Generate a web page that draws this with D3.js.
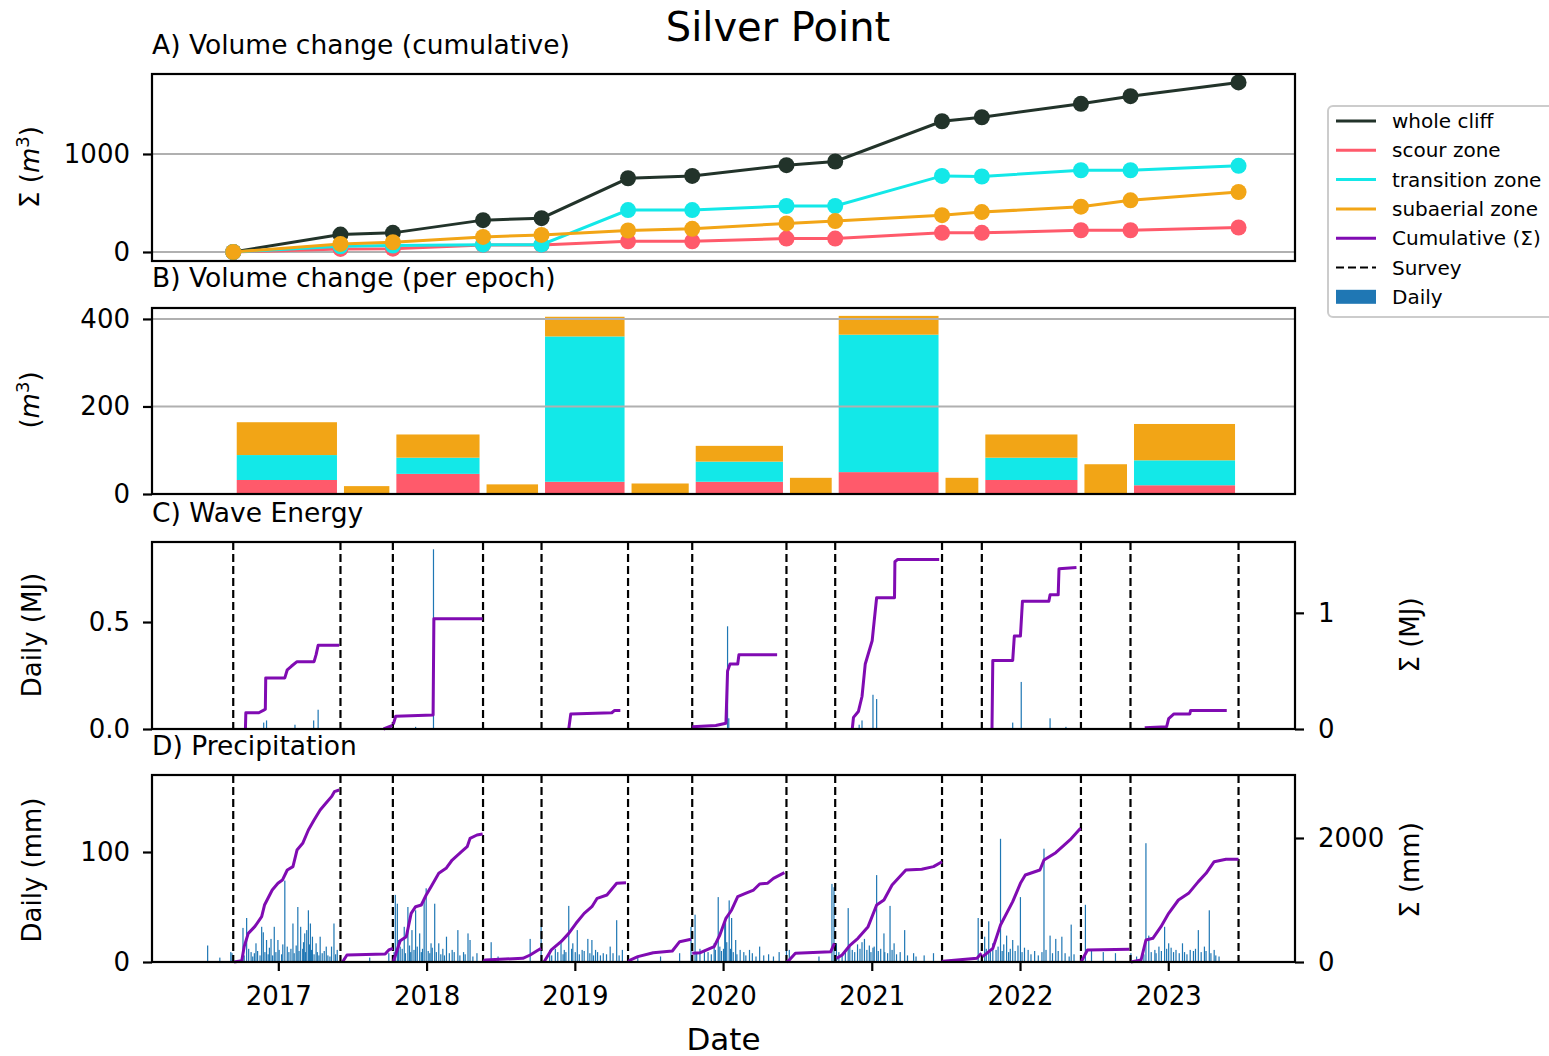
<!DOCTYPE html>
<html>
<head>
<meta charset="utf-8">
<script src="https://cdn.jsdelivr.net/npm/d3@7"></script>
<style>
  body { margin: 0; background: #fff; }
  svg text { font-family: "DejaVu Sans", sans-serif; fill: #000; }
</style>
</head>
<body>
<div id="chart"></div>
<script>
// survey dates (epoch boundaries)
const surveyDates = ["2016-09-12","2017-06-03","2017-10-10","2018-05-20","2018-10-11","2019-05-12","2019-10-17",
  "2020-06-05","2020-10-03","2021-06-23","2021-09-29","2022-05-31","2022-09-30","2023-06-23"]

// A) cumulative volume change at each survey (m3)
const wholeCliff = [0,178,195,325,345,752,776,886,923,1334,1375,1512,1590,1730]
const scourZone = [0,31,34,72,72,109,109,137,137,195,195,222,222,250]
const transitionZone = [0,58,65,75,75,428,428,469,469,776,770,834,834,879]
const subaerialZone = [0,82,99,154,174,219,236,291,315,376,407,462,527,612]

// B) volume change per epoch (m3)
const scourEpoch = [32,0,46,0,28,0,28,0,50,0,32,0,20]
const transitionEpoch = [57,0,37,0,332,0,46,0,314,0,51,0,57]
const subaerialEpoch = [75,18,53,22,45,24,36,37,43,37,53,68,83]

// C) wave energy, daily (MJ) and cumulative per epoch (MJ)
const waveDaily = [["2016-11-26",0.03],["2016-12-03",0.04],["2017-02-11",0.02],["2017-03-29",0.04],["2017-04-09",0.09],
  ["2017-12-05",0.01],["2018-01-18",0.84],["2020-01-12",0.48],["2020-01-15",0.05],["2020-12-01",0.02],["2020-12-08",0.04],
  ["2021-01-04",0.16],["2021-01-13",0.14],["2021-12-14",0.03],["2022-01-04",0.22],["2022-03-16",0.05],["2022-04-24",0.01]]
const waveCumulative = [
  [["2016-10-12",0],["2016-10-13",0.14],["2016-11-14",0.14],["2016-11-25",0.16],["2016-11-30",0.17],["2016-12-01",0.44],["2017-01-17",0.44],
   ["2017-01-23",0.51],["2017-02-02",0.54],["2017-02-16",0.58],["2017-03-30",0.58],["2017-04-04",0.64],["2017-04-09",0.72],["2017-05-31",0.72]],
  [["2017-09-17",0],["2017-10-09",0.03]],
  [["2017-10-11",0.04],["2017-10-17",0.11],["2018-01-17",0.12],["2018-01-19",0.95],["2018-05-19",0.95]],
  [["2018-12-17",0],["2018-12-22",0.13],["2019-04-02",0.14],["2019-04-09",0.16],["2019-04-23",0.16]],
  [["2019-10-17",0.02],["2019-12-14",0.03],["2020-01-08",0.05],["2020-01-12",0.50],["2020-01-18",0.56],["2020-02-06",0.56],
   ["2020-02-09",0.64],["2020-05-13",0.64]],
  [["2020-11-14",0],["2020-11-17",0.1],["2020-11-29",0.15],["2020-12-08",0.28],["2020-12-16",0.56],["2021-01-02",0.76],["2021-01-07",0.93],
   ["2021-01-13",1.13],["2021-02-26",1.13],["2021-02-27",1.44],["2021-03-06",1.46],["2021-06-16",1.46]],
  [["2021-10-24",0],["2021-10-26",0.59],["2021-12-14",0.59],["2021-12-18",0.8],["2022-01-02",0.8],["2022-01-07",1.1],["2022-03-13",1.1],
   ["2022-03-16",1.155],["2022-04-05",1.155],["2022-04-07",1.38],["2022-05-20",1.39]],
  [["2022-11-04",0.01],["2022-12-28",0.02],["2023-01-02",0.09],["2023-01-15",0.13],["2023-02-23",0.13],["2023-02-25",0.16],["2023-05-25",0.16]]
]

// D) precipitation, daily (mm) and cumulative per epoch (mm)
const rainDaily = [
  ["2016-07-11",15],["2016-08-10",4],["2016-09-06",9],["2016-09-09",8],["2016-10-06",31],["2016-10-09",6],["2016-10-15",40],["2016-10-20",12],
  ["2016-10-26",9],["2016-10-30",5],["2016-11-03",8],["2016-11-07",17],["2016-11-11",10],["2016-11-17",6],["2016-11-21",32],["2016-11-25",27],
  ["2016-11-29",9],["2016-12-03",20],["2016-12-07",7],["2016-12-10",13],["2016-12-14",21],["2016-12-18",6],["2016-12-22",32],["2016-12-26",9],
  ["2016-12-31",20],["2017-01-03",11],["2017-01-09",7],["2017-01-12",16],["2017-01-17",74],["2017-01-23",14],["2017-01-27",9],["2017-02-01",12],
  ["2017-02-06",35],["2017-02-09",8],["2017-02-14",15],["2017-02-18",50],["2017-02-21",10],["2017-02-25",32],["2017-03-02",12],["2017-03-04",18],
  ["2017-03-07",26],["2017-03-09",9],["2017-03-12",29],["2017-03-16",47],["2017-03-19",16],["2017-03-21",35],["2017-03-24",11],["2017-03-26",23],
  ["2017-03-30",7],["2017-04-04",17],["2017-04-07",9],["2017-04-11",6],["2017-04-14",23],["2017-04-19",8],["2017-04-24",10],["2017-04-29",14],
  ["2017-05-03",6],["2017-05-08",5],["2017-05-12",14],["2017-05-18",35],["2017-05-22",7],["2017-05-26",11],
  ["2017-08-14",4],["2017-09-30",8],["2017-10-13",9],["2017-10-16",61],["2017-10-21",53],["2017-10-24",20],["2017-10-28",14],["2017-11-02",12],
  ["2017-11-07",32],["2017-11-10",8],["2017-11-16",50],["2017-11-20",15],["2017-11-23",9],["2017-11-26",29],["2017-12-01",11],["2017-12-05",47],
  ["2017-12-09",14],["2017-12-15",26],["2017-12-19",9],["2017-12-22",12],["2017-12-26",58],["2017-12-31",67],["2018-01-05",10],["2018-01-09",8],
  ["2018-01-12",17],["2018-01-15",13],["2018-01-21",53],["2018-01-25",9],["2018-01-31",17],["2018-02-05",7],["2018-02-10",12],["2018-02-14",6],
  ["2018-02-19",23],["2018-02-26",8],["2018-03-05",11],["2018-03-10",9],["2018-03-19",29],["2018-03-24",6],["2018-04-02",9],["2018-04-06",7],
  ["2018-04-13",26],["2018-04-18",20],["2018-04-25",5],["2018-05-05",8],
  ["2018-06-09",18],["2018-06-26",5],["2018-09-13",21],["2018-10-10",32],["2018-10-31",11],["2018-11-05",6],["2018-11-14",12],["2018-11-20",9],
  ["2018-11-28",20],["2018-12-03",7],["2018-12-06",11],["2018-12-10",9],["2018-12-17",51],["2018-12-24",12],["2018-12-27",17],["2019-01-02",9],
  ["2019-01-07",29],["2019-01-12",7],["2019-01-19",11],["2019-01-24",10],["2019-02-02",21],["2019-02-07",8],["2019-02-12",20],["2019-02-16",6],
  ["2019-02-21",11],["2019-02-26",9],["2019-03-05",6],["2019-03-12",8],["2019-03-20",7],["2019-03-29",14],["2019-04-05",8],["2019-04-14",38],
  ["2019-04-20",6],["2019-04-28",11],
  ["2019-06-05",5],["2019-07-31",5],["2019-09-16",8],["2019-10-14",32],["2019-10-24",43],["2019-10-28",8],["2019-11-05",12],["2019-11-16",11],
  ["2019-11-25",9],["2019-12-03",7],["2019-12-10",17],["2019-12-13",11],["2019-12-20",59],["2019-12-24",14],["2019-12-28",10],["2020-01-02",12],
  ["2020-01-05",35],["2020-01-07",41],["2020-01-10",18],["2020-01-16",56],["2020-01-19",12],["2020-01-22",40],["2020-01-26",9],["2020-02-01",20],
  ["2020-02-04",7],["2020-02-12",11],["2020-02-21",9],["2020-02-26",6],["2020-03-06",11],["2020-03-13",8],["2020-03-22",5],["2020-03-31",14],
  ["2020-04-10",6],["2020-04-22",7],["2020-05-04",5],["2020-05-18",9],
  ["2020-06-05",17],["2020-06-12",11],["2020-08-24",5],["2020-09-25",71],["2020-09-30",68],["2020-10-06",17],["2020-10-12",9],["2020-10-20",6],
  ["2020-10-28",11],["2020-11-04",49],["2020-11-08",14],["2020-11-14",11],["2020-11-20",9],["2020-11-27",16],["2020-12-03",12],["2020-12-08",18],
  ["2020-12-14",21],["2020-12-20",11],["2020-12-26",15],["2020-12-30",9],["2021-01-04",13],["2021-01-07",14],["2021-01-13",79],["2021-01-17",10],
  ["2021-01-23",12],["2021-01-31",26],["2021-02-02",9],["2021-02-09",8],["2021-02-15",51],["2021-02-20",11],["2021-02-25",17],["2021-03-03",7],
  ["2021-03-12",9],["2021-03-23",29],["2021-03-30",6],["2021-04-14",8],["2021-04-20",5],["2021-05-10",6],["2021-06-02",8],
  ["2021-09-20",40],["2021-10-06",23],["2021-10-10",12],["2021-10-16",37],["2021-10-20",9],["2021-10-26",17],["2021-11-03",11],["2021-11-08",14],
  ["2021-11-14",112],["2021-11-18",10],["2021-11-22",16],["2021-11-29",24],["2021-12-04",9],["2021-12-08",12],["2021-12-14",20],["2021-12-20",10],
  ["2021-12-27",15],["2022-01-02",59],["2022-01-06",9],["2022-01-12",13],["2022-01-21",11],["2022-01-28",7],["2022-02-06",10],["2022-02-15",6],
  ["2022-02-24",9],["2022-03-01",103],["2022-03-06",11],["2022-03-16",24],["2022-03-22",8],["2022-03-30",21],["2022-04-05",10],["2022-04-14",23],
  ["2022-04-22",8],["2022-05-02",5],["2022-05-07",34],["2022-05-14",7],
  ["2022-06-11",52],["2022-06-26",11],["2022-07-25",9],["2022-08-24",8],["2022-10-01",8],["2022-10-15",5],["2022-11-02",7],["2022-11-07",108],
  ["2022-11-14",24],["2022-11-20",9],["2022-11-29",11],["2022-12-02",8],["2022-12-09",14],["2022-12-15",10],["2022-12-23",32],["2022-12-28",12],
  ["2023-01-02",17],["2023-01-08",13],["2023-01-14",9],["2023-01-20",11],["2023-01-28",8],["2023-02-05",17],["2023-02-10",9],["2023-02-16",7],
  ["2023-02-24",11],["2023-03-04",10],["2023-03-09",12],["2023-03-16",29],["2023-03-23",9],["2023-03-31",14],["2023-04-04",10],["2023-04-12",47],
  ["2023-04-16",8],["2023-04-24",11],["2023-04-28",6],["2023-05-06",5]
]
const rainCumulative = [
  [["2016-09-14",0],["2016-10-03",20],["2016-10-09",250],["2016-10-19",462],["2016-11-04",570],["2016-11-21",731],["2016-11-28",919],
   ["2016-12-17",1161],["2016-12-31",1269],["2017-01-11",1322],["2017-01-23",1484],["2017-02-06",1538],["2017-02-16",1806],["2017-03-02",1914],
   ["2017-03-16",2129],["2017-03-30",2290],["2017-04-14",2451],["2017-04-28",2559],["2017-05-12",2667],["2017-05-19",2747],["2017-05-31",2774]],
  [["2017-06-08",0],["2017-06-19",113],["2017-09-21",129],["2017-09-30",194],["2017-10-10",220]],
  [["2017-10-11",0],["2017-10-28",344],["2017-11-12",408],["2017-11-24",785],["2017-12-05",892],["2017-12-19",919],["2017-12-31",1081],
   ["2018-01-12",1215],["2018-01-31",1430],["2018-02-18",1511],["2018-03-05",1645],["2018-03-28",1779],["2018-04-11",1860],["2018-04-18",1994],
   ["2018-05-05",2048],["2018-05-19",2064]],
  [["2018-05-21",0],["2018-05-25",32],["2018-08-26",60],["2018-09-13",113],["2018-10-03",194],["2018-10-10",220]],
  [["2018-10-17",0],["2018-11-04",194],["2018-11-28",328],["2018-12-17",462],["2019-01-04",624],["2019-01-24",785],["2019-02-12",892],
   ["2019-02-25",1027],["2019-03-21",1081],["2019-04-14",1269],["2019-05-07",1280]],
  [["2019-05-13",0],["2019-05-17",32],["2019-06-05",86],["2019-07-13",150],["2019-08-29",177],["2019-09-16",328],["2019-10-14",366]],
  [["2019-10-17",140],["2019-11-06",150],["2019-12-10",247],["2019-12-24",435],["2020-01-08",704],["2020-01-22",839],["2020-02-06",1054],
   ["2020-02-25",1107],["2020-03-16",1161],["2020-03-31",1258],["2020-04-19",1269],["2020-05-04",1349],["2020-05-31",1441]],
  [["2020-06-06",0],["2020-06-12",32],["2020-06-27",140],["2020-09-22",167],["2020-10-01",301]],
  [["2020-10-06",59],["2020-10-20",113],["2020-11-09",274],["2020-11-28",382],["2020-12-23",570],["2021-01-13",919],["2021-01-31",1000],
   ["2021-02-20",1242],["2021-03-26",1484],["2021-05-04",1495],["2021-06-02",1538],["2021-06-23",1618]],
  [["2021-06-24",0],["2021-06-25",11],["2021-09-17",59],["2021-09-28",140]],
  [["2021-10-01",86],["2021-10-26",220],["2021-11-14",597],["2021-12-14",973],["2022-01-02",1269],["2022-01-14",1403],["2022-02-19",1484],
   ["2022-03-01",1645],["2022-03-30",1763],["2022-05-04",1968],["2022-05-30",2156]],
  [["2022-05-31",0],["2022-06-03",32],["2022-06-16",194],["2022-09-27",204]],
  [["2022-10-01",0],["2022-10-26",32],["2022-11-07",355],["2022-11-24",382],["2022-12-14",570],["2023-01-02",785],["2023-01-26",1000],
   ["2023-02-20",1107],["2023-03-16",1296],["2023-04-04",1430],["2023-04-24",1618],["2023-05-23",1656],["2023-06-23",1656]]
]

const legendLabels = ["whole cliff","scour zone","transition zone","subaerial zone","Cumulative (Σ)","Survey","Daily"]

const colors = {
  whole: "#22332a",
  scour: "#ff5a6b",
  transition: "#13e8e8",
  subaerial: "#f2a516",
  cum: "#800bb2",
  daily: "#1f77b4"
}

const width = 1549
const height = 1056
const plotLeft = 152
const plotRight = 1295
const panels = {
  A: { top: 74, bottom: 261 },
  B: { top: 308, bottom: 494 },
  C: { top: 542, bottom: 729 },
  D: { top: 775, bottom: 962 }
}
const parseDate = d3.timeParse("%Y-%m-%d")
const fontFamily = "DejaVu Sans"

const svg = d3.select("#chart").append("svg").attr("width", width).attr("height", height)
svg.append("rect").attr("width", width).attr("height", height).attr("fill", "#fff")

const xScale = d3.scaleTime()
  .domain([parseDate("2016-02-25"), parseDate("2023-11-09")])
  .range([plotLeft, plotRight])

const yA = d3.scaleLinear().domain([-92, 1816]).range([panels.A.bottom, panels.A.top])
const yB = d3.scaleLinear().domain([0, 425]).range([panels.B.bottom, panels.B.top])
const yCleft = d3.scaleLinear().domain([0, 0.874]).range([panels.C.bottom, panels.C.top])
const yCright = d3.scaleLinear().domain([0, 1.61]).range([panels.C.bottom, panels.C.top])
const yDleft = d3.scaleLinear().domain([0, 170]).range([panels.D.bottom, panels.D.top])
const yDright = d3.scaleLinear().domain([0, 3016]).range([panels.D.bottom, panels.D.top])

function styleAxis(g) {
  g.select(".domain").remove()
  g.attr("font-size", 26).attr("font-family", fontFamily)
  g.selectAll(".tick line").attr("stroke", "#000").attr("stroke-width", 2.2)
  g.selectAll(".tick text").attr("fill", "#000")
}

function drawGrid(scale, ticks) {
  svg.append("g")
    .selectAll("line")
    .data(ticks)
    .enter()
    .append("line")
    .attr("x1", plotLeft)
    .attr("x2", plotRight)
    .attr("y1", function(d) { return scale(d) })
    .attr("y2", function(d) { return scale(d) })
    .attr("stroke", "#b0b0b0")
    .attr("stroke-width", 2)
}

function leftAxis(scale, ticks, fmt) {
  const g = svg.append("g")
    .attr("transform", "translate(" + plotLeft + ",0)")
    .call(d3.axisLeft(scale).tickValues(ticks).tickFormat(fmt).tickSize(9).tickPadding(13))
  styleAxis(g)
}

function rightAxis(scale, ticks, fmt) {
  const g = svg.append("g")
    .attr("transform", "translate(" + plotRight + ",0)")
    .call(d3.axisRight(scale).tickValues(ticks).tickFormat(fmt).tickSize(9).tickPadding(14))
  styleAxis(g)
}

function frame(p) {
  svg.append("rect")
    .attr("x", plotLeft)
    .attr("y", p.top)
    .attr("width", plotRight - plotLeft)
    .attr("height", p.bottom - p.top)
    .attr("fill", "none")
    .attr("stroke", "#000")
    .attr("stroke-width", 2.2)
}

function panelTitle(label, y) {
  svg.append("text").attr("x", plotLeft).attr("y", y).attr("font-size", 26.5).text(label)
}

function yLabel(xPos, yPos, parts) {
  const t = svg.append("text")
    .attr("transform", "translate(" + xPos + "," + yPos + ") rotate(-90)")
    .attr("text-anchor", "middle")
    .attr("dy", "0.35em")
    .attr("font-size", 26)
  parts.forEach(function(p) {
    const s = t.append("tspan").text(p.text)
    if (p.italic) s.attr("font-style", "italic")
    if (p.sup) s.attr("baseline-shift", "super").attr("font-size", 18)
  })
}

function surveyLines(p) {
  svg.append("g")
    .selectAll("line")
    .data(surveyDates)
    .enter()
    .append("line")
    .attr("x1", function(d) { return xScale(parseDate(d)) })
    .attr("x2", function(d) { return xScale(parseDate(d)) })
    .attr("y1", p.top)
    .attr("y2", p.bottom)
    .attr("stroke", "#000")
    .attr("stroke-width", 2.2)
    .attr("stroke-dasharray", "8,4")
}

function dailyBars(data, scale) {
  svg.append("g")
    .selectAll("rect")
    .data(data)
    .enter()
    .append("rect")
    .attr("x", function(d) { return xScale(parseDate(d[0])) - 0.6 })
    .attr("width", 1.2)
    .attr("y", function(d) { return scale(d[1]) })
    .attr("height", function(d) { return scale(0) - scale(d[1]) })
    .attr("fill", colors.daily)
}

function cumulativeLines(epochs, scale) {
  const line = d3.line()
    .x(function(d) { return xScale(parseDate(d[0])) })
    .y(function(d) { return scale(d[1]) })
  svg.append("g")
    .selectAll("path")
    .data(epochs)
    .enter()
    .append("path")
    .attr("fill", "none")
    .attr("stroke", colors.cum)
    .attr("stroke-width", 3)
    .attr("stroke-linejoin", "round")
    .attr("d", function(d) { return line(d) })
}

// title
svg.append("text")
  .attr("x", 778)
  .attr("y", 41)
  .attr("text-anchor", "middle")
  .attr("font-size", 40)
  .text("Silver Point")

// ---------- A) cumulative volume ----------
panelTitle("A) Volume change (cumulative)", 54)
drawGrid(yA, [0, 1000])
const seriesA = [
  { values: wholeCliff, color: colors.whole },
  { values: scourZone, color: colors.scour },
  { values: transitionZone, color: colors.transition },
  { values: subaerialZone, color: colors.subaerial }
]
const lineA = d3.line()
  .x(function(d) { return xScale(parseDate(d[0])) })
  .y(function(d) { return yA(d[1]) })
seriesA.forEach(function(s) {
  const pts = surveyDates.map(function(d, i) { return [d, s.values[i]] })
  const g = svg.append("g")
  g.append("path")
    .attr("d", lineA(pts))
    .attr("fill", "none")
    .attr("stroke", s.color)
    .attr("stroke-width", 3)
  g.selectAll("circle")
    .data(pts)
    .enter()
    .append("circle")
    .attr("cx", function(d) { return xScale(parseDate(d[0])) })
    .attr("cy", function(d) { return yA(d[1]) })
    .attr("r", 8)
    .attr("fill", s.color)
})
leftAxis(yA, [0, 1000], d3.format("d"))
frame(panels.A)
yLabel(30, 167, [{ text: "Σ (" }, { text: "m", italic: true }, { text: "3", sup: true }, { text: ")" }])

// ---------- B) per epoch ----------
panelTitle("B) Volume change (per epoch)", 287)
const epochTable = scourEpoch.map(function(v, i) {
  return { start: surveyDates[i], end: surveyDates[i + 1], scour: v, transition: transitionEpoch[i], subaerial: subaerialEpoch[i] }
})
const stacked = d3.stack().keys(["scour", "transition", "subaerial"])(epochTable)
const barsB = svg.append("g")
stacked.forEach(function(layer) {
  barsB.append("g")
    .selectAll("rect")
    .data(layer.filter(function(d) { return d[1] - d[0] > 0 }))
    .enter()
    .append("rect")
    .attr("x", function(d) { return xScale(parseDate(d.data.start)) + 3.5 })
    .attr("width", function(d) { return xScale(parseDate(d.data.end)) - xScale(parseDate(d.data.start)) - 7 })
    .attr("y", function(d) { return yB(d[1]) })
    .attr("height", function(d) { return yB(d[0]) - yB(d[1]) })
    .attr("fill", colors[layer.key])
})
drawGrid(yB, [0, 200, 400])
leftAxis(yB, [0, 200, 400], d3.format("d"))
frame(panels.B)
yLabel(30, 400, [{ text: "(" }, { text: "m", italic: true }, { text: "3", sup: true }, { text: ")" }])

// ---------- C) wave energy ----------
panelTitle("C) Wave Energy", 522)
dailyBars(waveDaily, yCleft)
surveyLines(panels.C)
cumulativeLines(waveCumulative, yCright)
leftAxis(yCleft, [0, 0.5], d3.format(".1f"))
rightAxis(yCright, [0, 1], d3.format("d"))
frame(panels.C)
yLabel(32, 635, [{ text: "Daily (MJ)" }])
yLabel(1410, 635, [{ text: "Σ (MJ)" }])

// ---------- D) precipitation ----------
panelTitle("D) Precipitation", 755)
dailyBars(rainDaily, yDleft)
surveyLines(panels.D)
cumulativeLines(rainCumulative, yDright)
leftAxis(yDleft, [0, 100], d3.format("d"))
rightAxis(yDright, [0, 2000], d3.format("d"))
const xAxisG = svg.append("g")
  .attr("transform", "translate(0," + panels.D.bottom + ")")
  .call(d3.axisBottom(xScale).ticks(d3.timeYear.every(1)).tickFormat(d3.timeFormat("%Y")).tickSize(9).tickPadding(16))
styleAxis(xAxisG)
frame(panels.D)
yLabel(32, 870, [{ text: "Daily (mm)" }])
yLabel(1410, 870, [{ text: "Σ (mm)" }])

svg.append("text")
  .attr("x", (plotLeft + plotRight) / 2)
  .attr("y", 1050)
  .attr("text-anchor", "middle")
  .attr("font-size", 31)
  .text("Date")

// ---------- legend ----------
const legend = svg.append("g").attr("transform", "translate(1328,106)")
legend.append("rect")
  .attr("x", 0)
  .attr("y", 0)
  .attr("width", 240)
  .attr("height", 211)
  .attr("rx", 5)
  .attr("fill", "#fff")
  .attr("fill-opacity", 0.8)
  .attr("stroke", "#cccccc")
  .attr("stroke-width", 2)
const legendStyles = [
  { type: "line", color: colors.whole },
  { type: "line", color: colors.scour },
  { type: "line", color: colors.transition },
  { type: "line", color: colors.subaerial },
  { type: "line", color: colors.cum },
  { type: "dash", color: "#000" },
  { type: "patch", color: colors.daily }
]
legendLabels.forEach(function(label, i) {
  const yRow = 15 + i * 29.3
  const st = legendStyles[i]
  if (st.type === "patch") {
    legend.append("rect").attr("x", 8).attr("y", yRow - 7).attr("width", 40).attr("height", 14).attr("fill", st.color)
  } else {
    legend.append("line")
      .attr("x1", 8).attr("x2", 48)
      .attr("y1", yRow).attr("y2", yRow)
      .attr("stroke", st.color)
      .attr("stroke-width", st.type === "dash" ? 2.2 : 3)
      .attr("stroke-dasharray", st.type === "dash" ? "8,4" : null)
  }
  legend.append("text")
    .attr("x", 64)
    .attr("y", yRow)
    .attr("dy", "0.35em")
    .attr("font-size", 20)
    .text(label)
})
</script>
</body>
</html>
